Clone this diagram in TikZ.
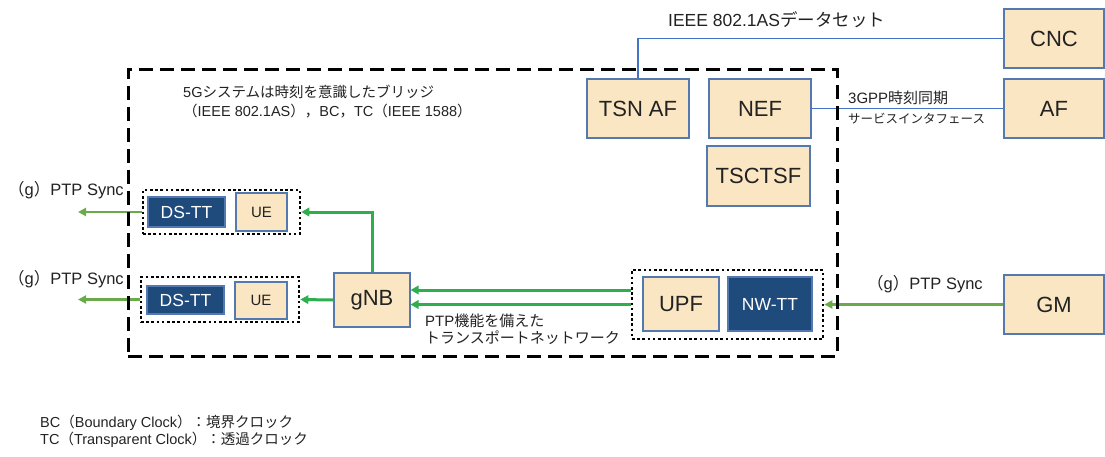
\documentclass[tikz,border=0pt]{standalone}
\usepackage{fontspec}
\setmainfont{Liberation Sans}
\newfontfamily\jp{Noto Sans CJK JP}
\usetikzlibrary{arrows.meta}
\newcommand\fsz[2]{\fontsize{#1}{#2}\selectfont}

\definecolor{boxfill}{HTML}{FBE6C3}
\definecolor{boxline}{HTML}{5479B0}
\definecolor{ttfill}{HTML}{1F4A7C}
\definecolor{ptpgreen}{HTML}{2FAE4E}
\definecolor{syncgreen}{HTML}{6BAA4B}
\definecolor{ifblue}{HTML}{4472C4}
\definecolor{txt}{HTML}{222222}

\tikzset{
  nf/.style={draw=boxline, fill=boxfill, line width=1.1pt, inner sep=0pt, text=txt, font=\fsz{22}{26}},
  uebox/.style={nf, font=\fsz{15}{18}},
  tt/.style={draw=boxline, fill=ttfill, line width=1.1pt, inner sep=0pt, text=white, font=\fsz{17.5}{20}},
  grp/.style={draw=black, line width=2.6pt, dash pattern=on 2.6pt off 2.6pt, inner sep=0pt},
  sysframe/.style={draw=black, line width=3pt, dash pattern=on 14pt off 7pt, inner sep=0pt},
  ptp/.style={draw=ptpgreen, line width=3pt, -{Triangle[length=8pt,width=8.5pt]}},
  sync/.style={draw=syncgreen, line width=2.6pt, -{Triangle[length=8pt,width=8pt]}},
  ifline/.style={draw=ifblue, line width=1.3pt},
  lbl/.style={text=txt, inner sep=0pt, align=left, anchor=west},
}

\begin{document}
\begin{tikzpicture}[x=1pt, y=-1pt]
\useasboundingbox (0,0) rectangle (1105,456);

% external functions
\node[nf, minimum width=100pt, minimum height=59pt] (cnc) at (1054,38.5) {CNC};
\node[nf, minimum width=100pt, minimum height=59pt] (af)  at (1054,108.5) {AF};
\node[nf, minimum width=100pt, minimum height=59pt] (gm)  at (1054,304.5) {GM};

% 5GS control plane
\node[nf, minimum width=102pt, minimum height=59pt] (tsnaf)  at (638,108.5) {TSN AF};
\node[nf, minimum width=102pt, minimum height=59pt] (nef)    at (760,108.5) {NEF};
\node[nf, minimum width=103pt, minimum height=60pt] (tsctsf) at (758.5,176) {TSCTSF};

% UE side
\node[grp, minimum width=157pt, minimum height=44pt] (g1) at (221.5,212) {};
\node[tt, minimum width=77pt, minimum height=30pt] (dstt1) at (186.5,212) {DS-TT};
\node[uebox, minimum width=51pt, minimum height=38pt] (ue1) at (261.5,212) {UE};

\node[grp, minimum width=158pt, minimum height=45pt] (g2) at (220,299.5) {};
\node[tt, minimum width=77pt, minimum height=28pt] (dstt2) at (185.5,300) {DS-TT};
\node[uebox, minimum width=52pt, minimum height=37pt] (ue2) at (261,300.5) {UE};

% RAN and core user plane
\node[nf, minimum width=76pt, minimum height=54pt] (gnb) at (372,300) {gNB};
\node[grp, minimum width=191pt, minimum height=69pt] (upfg) at (727.5,304.5) {};
\node[nf, minimum width=76pt, minimum height=54pt] (upf) at (681,304) {UPF};
\node[tt, minimum width=84pt, minimum height=54pt] (nwtt) at (770,304) {NW-TT};

% free ends of the outgoing sync arrows
\coordinate (out1) at (78,212);
\coordinate (out2) at (78,299.5);

% interfaces
\draw[ifline] (tsnaf.north) |- (cnc.west);
\draw[ifline] (nef.east) -- (af.west);

% time distribution
\draw[sync] (gm.west) -- (upfg.east);
\draw[ptp] ([yshift=14.5pt]upfg.west) -- ([yshift=14.5pt]upfg.west -| gnb.east);
\draw[ptp] (upfg.west) -- (upfg.west -| gnb.east);
\draw[ptp] (gnb.north) |- (g1.east);
\draw[ptp] (gnb.west) -- (g2.east);
\draw[sync] (g1.west) -- (out1);
\draw[sync] (g2.west) -- (out2);

% 5G system boundary
\node[sysframe, minimum width=709pt, minimum height=287pt] (fivegs) at (482.5,212.5) {};

% labels
\node[lbl, font=\fsz{17.5}{20}] (lbldata) at (668,20) {IEEE 802.1AS{\jp データセット}};
\node[lbl, font=\fsz{15}{18}] (lbl3gpp) at (848,98) {3GPP{\jp 時刻同期}};
\node[lbl, font=\fsz{12.5}{15}] (lblsvc) at (848,119) {\jp サービスインタフェース};
\node[lbl, font=\fsz{14.5}{19}] (lblsys) at (183,101.5) {5G{\jp システムは時刻を意識したブリッジ}\\{\jp （}IEEE 802.1AS{\jp ），}BC{\jp ，}TC{\jp （}IEEE 1588{\jp ）}};
\node[lbl, font=\fsz{16.5}{20}] (lblsync1) at (8,190) {{\jp （}g{\jp ）}PTP Sync};
\node[lbl, font=\fsz{16.5}{20}] (lblsync2) at (8,279) {{\jp （}g{\jp ）}PTP Sync};
\node[lbl, font=\fsz{16.5}{20}] (lblsync3) at (867,284) {{\jp （}g{\jp ）}PTP Sync};
\node[lbl, font=\fsz{15}{16.6}] (lbltn) at (425,329) {PTP{\jp 機能を備えた}\\{\jp トランスポートネットワーク}};
\node[lbl, font=\fsz{14.5}{17}] (lblnote) at (40,431.5) {BC{\jp （}Boundary Clock{\jp ）：境界クロック}\\TC{\jp （}Transparent Clock{\jp ）：透過クロック}};
\end{tikzpicture}
\end{document}
